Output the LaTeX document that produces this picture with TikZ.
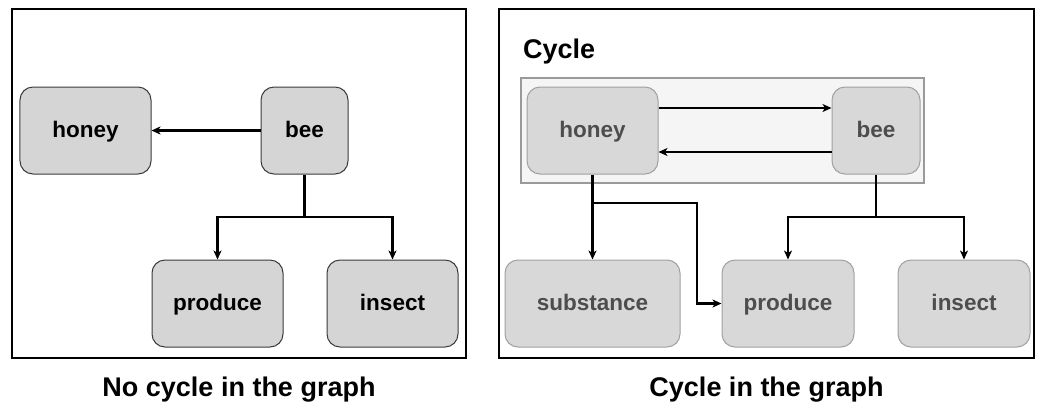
\documentclass[tikz,border=0pt]{standalone}
\usepackage{fontspec}
\setmainfont{Liberation Sans}
\usetikzlibrary{arrows.meta}
\definecolor{lfill}{HTML}{D5D5D5}
\definecolor{lborder}{HTML}{3A3A3A}
\definecolor{rfill}{HTML}{D8D8D8}
\definecolor{rborder}{HTML}{A0A0A0}
\definecolor{rtext}{HTML}{4D4D4D}
\definecolor{cyclefill}{HTML}{F5F5F5}
\definecolor{cycleborder}{HTML}{9A9A9A}
\begin{document}
\begin{tikzpicture}[x=1bp,y=-1bp,
  frame/.style={draw=black,line width=1.4bp},
  boxbase/.style={line width=1bp,rounded corners=13bp,minimum height=87bp,inner sep=0pt,
    text height=17.5bp,text depth=4bp,font=\fontsize{22.5bp}{26bp}\selectfont\bfseries},
  lbox/.style={boxbase,draw=lborder,fill=lfill,text=black},
  rbox/.style={boxbase,draw=rborder,fill=rfill,text=rtext},
  arr/.style={draw=black,line width=2.2bp,-{Stealth[length=9bp,width=8bp,inset=2.5bp]}},
  ln/.style={draw=black,line width=2.2bp},
  title/.style={font=\fontsize{27bp}{30bp}\selectfont\bfseries,inner sep=0pt,text=black}]
\useasboundingbox (0,0) rectangle (1042,404);
% frames
\draw[frame] (12,9) rectangle (466,358);
\draw[frame] (499,9) rectangle (1034,358);
% captions
\node[title,anchor=base] (capL) at (239,396) {No cycle in the graph};
\node[title,anchor=base] (capR) at (766.5,396) {Cycle in the graph};
% ---- left graph
\node[lbox,minimum width=131bp] (honeyL) at (85.5,130.5) {honey};
\node[lbox,minimum width=87bp] (beeL) at (304.5,130.5) {bee};
\node[lbox,minimum width=131bp] (produceL) at (217.5,303.5) {produce};
\node[lbox,minimum width=131bp] (insectL) at (392.5,303.5) {insect};
\coordinate (jL) at (304.5,217);
\draw[arr] (beeL.west) -- (honeyL.east);
\draw[ln] (beeL.south) -- (jL);
\draw[arr] (jL) -| (produceL.north);
\draw[arr] (jL) -| (insectL.north);
% ---- right graph
\node[title,anchor=base west] (cycT) at (523,58) {Cycle};
\draw[draw=cycleborder,fill=cyclefill,line width=1.4bp] (521,78) rectangle (924,183);
\node[rbox,minimum width=131bp] (honeyR) at (592.5,130.5) {honey};
\node[rbox,minimum width=88bp] (beeR) at (876,130.5) {bee};
\node[rbox,minimum width=175bp] (subR) at (592.5,303.5) {substance};
\node[rbox,minimum width=132bp] (produceR) at (788,303.5) {produce};
\node[rbox,minimum width=132bp] (insectR) at (964,303.5) {insect};
\coordinate (row1) at (0,108);
\coordinate (row2) at (0,152);
\coordinate (jH) at (592.5,203);
\coordinate (tH) at (697,203);
\coordinate (jB) at (876,217);
\draw[arr] (honeyR.east |- row1) -- (beeR.west |- row1);
\draw[arr] (beeR.west |- row2) -- (honeyR.east |- row2);
\draw[arr] (honeyR.south) -- (subR.north);
\draw[arr] (jH) -- (tH) |- (produceR.west);
\draw[ln] (beeR.south) -- (jB);
\draw[arr] (jB) -| (produceR.north);
\draw[arr] (jB) -| (insectR.north);
\end{tikzpicture}
\end{document}
